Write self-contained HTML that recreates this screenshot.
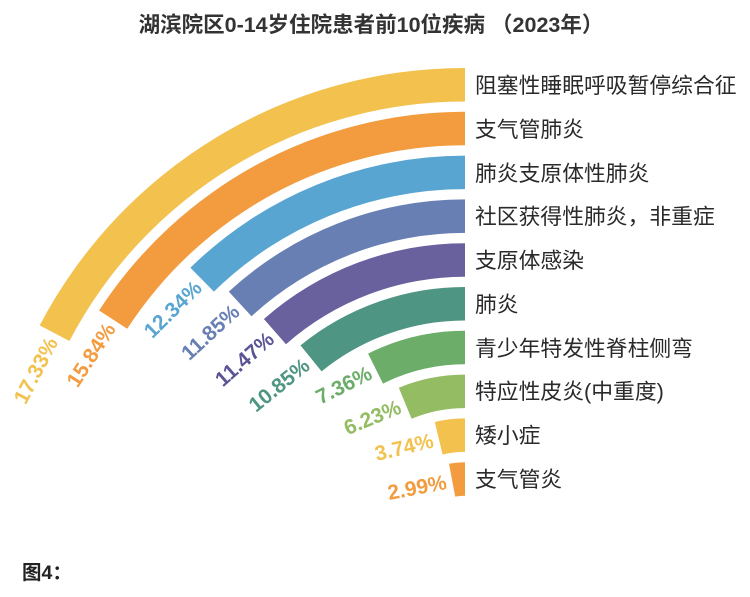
<!DOCTYPE html>
<html><head><meta charset="utf-8"><style>
html,body{margin:0;padding:0;background:#fff;}
svg{display:block;}
</style></head><body>
<svg width="750" height="597" viewBox="0 0 750 597" xmlns="http://www.w3.org/2000/svg">
<text x="371" y="32" text-anchor="middle" font-family="Liberation Sans, Noto Sans CJK SC, sans-serif" font-weight="bold" font-size="21.5" fill="#333">湖滨院区0-14岁住院患者前10位疾病 （2023年）</text>

<g>
<path d="M465,68 A480,480 0 0 0 39.7,325.4 L69.4,341.0 A446.5,446.5 0 0 1 465,101.5 Z" fill="#F2C14E"/>
<path d="M465,111.8 A436.2,436.2 0 0 0 99.1,310.5 L127.2,328.8 A402.7,402.7 0 0 1 465,145.3 Z" fill="#F39C3F"/>
<path d="M465,155.6 A392.4,392.4 0 0 0 190.4,267.7 L213.9,291.6 A358.9,358.9 0 0 1 465,189.1 Z" fill="#59A5D2"/>
<path d="M465,199.4 A348.6,348.6 0 0 0 228.8,291.6 L251.5,316.3 A315.1,315.1 0 0 1 465,232.9 Z" fill="#687FB4"/>
<path d="M465,243.2 A304.8,304.8 0 0 0 263.9,319.0 L286.0,344.2 A271.3,271.3 0 0 1 465,276.7 Z" fill="#68619E"/>
<path d="M465,287 A261,261 0 0 0 300.5,345.4 L321.6,371.4 A227.5,227.5 0 0 1 465,320.5 Z" fill="#4E9584"/>
<path d="M465,330.8 A217.2,217.2 0 0 0 368.1,353.6 L383.0,383.6 A183.7,183.7 0 0 1 465,364.3 Z" fill="#6BAD69"/>
<path d="M465,374.6 A173.4,173.4 0 0 0 398.8,387.7 L411.6,418.7 A139.9,139.9 0 0 1 465,408.1 Z" fill="#93BC63"/>
<path d="M465,418.4 A129.6,129.6 0 0 0 434.8,422.0 L442.6,454.5 A96.1,96.1 0 0 1 465,451.9 Z" fill="#F2C14E"/>
<path d="M465,462.2 A85.8,85.8 0 0 0 449.0,463.7 L455.2,496.6 A52.3,52.3 0 0 1 465,495.7 Z" fill="#F39C3F"/>
</g>

<g font-family="Liberation Sans, sans-serif" font-weight="bold" font-size="21" text-anchor="end">
<text transform="rotate(-62.39 465 548)" x="459" y="92.5" fill="#F2C14E">17.33%</text>
<text transform="rotate(-57.02 465 548)" x="459" y="136.3" fill="#F39C3F">15.84%</text>
<text transform="rotate(-44.42 465 548)" x="459" y="180.1" fill="#59A5D2">12.34%</text>
<text transform="rotate(-42.66 465 548)" x="459" y="223.9" fill="#687FB4">11.85%</text>
<text transform="rotate(-41.29 465 548)" x="459" y="267.7" fill="#5A5396">11.47%</text>
<text transform="rotate(-39.06 465 548)" x="459" y="311.5" fill="#4E9584">10.85%</text>
<text transform="rotate(-26.50 465 548)" x="459" y="355.3" fill="#6BAD69">7.36%</text>
<text transform="rotate(-22.43 465 548)" x="459" y="399.1" fill="#93BC63">6.23%</text>
<text transform="rotate(-13.46 465 548)" x="459" y="442.9" fill="#F2C14E">3.74%</text>
<text transform="rotate(-10.76 465 548)" x="459" y="486.7" fill="#F39C3F">2.99%</text>
</g>

<g font-family="Liberation Sans, Noto Sans CJK SC, sans-serif" font-size="21.8" fill="#2a2a2a">
<text x="475" y="93">阻塞性睡眠呼吸暂停综合征</text>
<text x="475" y="137">支气管肺炎</text>
<text x="475" y="181">肺炎支原体性肺炎</text>
<text x="475" y="224">社区获得性肺炎，非重症</text>
<text x="475" y="268">支原体感染</text>
<text x="475" y="312">肺炎</text>
<text x="475" y="356">青少年特发性脊柱侧弯</text>
<text x="475" y="399">特应性皮炎(中重度)</text>
<text x="475" y="443">矮小症</text>
<text x="475" y="487">支气管炎</text>
</g>

<text x="22" y="579" font-family="Liberation Sans, Noto Sans CJK SC, sans-serif" font-weight="bold" font-size="19.5" fill="#222">图4：</text>
</svg>
</body></html>
